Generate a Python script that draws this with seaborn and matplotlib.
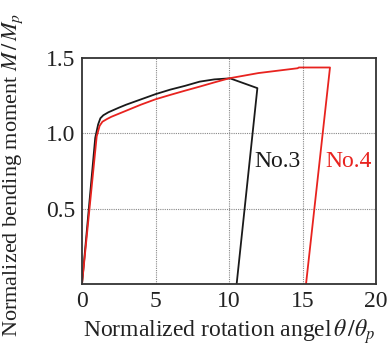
import matplotlib
matplotlib.use("Agg")
import matplotlib.pyplot as plt
import seaborn as sns
import pandas as pd

# Data
no3_theta = [0.0, 0.9, 1.1, 1.25, 1.45, 1.8, 2.5, 3.0, 4.0, 5.0, 6.0, 7.0, 8.0, 9.0, 10.07, 11.93, 10.52]
no3_m     = [0.0, 0.97, 1.06, 1.10, 1.12, 1.14, 1.17, 1.19, 1.225, 1.26, 1.29, 1.315, 1.343, 1.358, 1.365, 1.30, 0.0]
no4_theta = [0.0, 1.0, 1.2, 1.39, 1.7, 2.0, 3.0, 4.0, 5.0, 6.0, 7.0, 8.0, 9.0, 10.0, 12.0, 14.67, 14.75, 16.87, 15.24]
no4_m     = [0.0, 0.98, 1.05, 1.077, 1.095, 1.11, 1.15, 1.19, 1.226, 1.255, 1.283, 1.31, 1.338, 1.365, 1.40, 1.432, 1.437, 1.437, 0.0]
x_ticks = [0, 5, 10, 15, 20]
y_ticks = [0.5, 1.0, 1.5]

df = pd.concat([
    pd.DataFrame({"theta": no3_theta, "m": no3_m, "spec": "No.3", "order": range(len(no3_theta))}),
    pd.DataFrame({"theta": no4_theta, "m": no4_m, "spec": "No.4", "order": range(len(no4_theta))}),
])

sns.set_theme(style="white")
plt.rcParams["font.family"] = ["Liberation Serif", "DejaVu Serif"]
plt.rcParams["mathtext.fontset"] = "stix"

fig = plt.figure(figsize=(3.89, 3.47), dpi=100)
ax = fig.add_axes([82/389, 1-284/347, 294/389, 226/347])

sns.lineplot(data=df, x="theta", y="m", hue="spec", units="spec", estimator=None,
             sort=False, palette={"No.3": "#1a1a1a", "No.4": "#e8231f"},
             linewidth=1.3, legend=False, ax=ax)

ax.set_xlim(0, 20)
ax.set_ylim(0, 1.5)
ax.set_xticks(x_ticks)
ax.set_yticks(y_ticks)
ax.set_yticklabels([f"{v:.1f}" for v in y_ticks])
ax.tick_params(axis="both", length=0, labelsize=17, pad=5, colors="#222222")
for v in [5, 10, 15]:
    ax.axvline(v, color="#888888", linestyle=(0, (1, 1)), linewidth=0.8, zorder=0)
for v in [0.5, 1.0]:
    ax.axhline(v, color="#888888", linestyle=(0, (1, 1)), linewidth=0.8, zorder=0)
for s in ax.spines.values():
    s.set_color("#333333")
    s.set_linewidth(1.3)

ax.text(13.3, 0.81, "No.3", color="#1a1a1a", fontsize=17, ha="center", va="center")
ax.text(18.1, 0.81, "No.4", color="#e8231f", fontsize=17, ha="center", va="center")

ax.set_xlabel(r"Normalized rotation angel$\,\theta\,/\theta_p$", fontsize=17, color="#222222", labelpad=4)
ax.set_ylabel(r"Normalized bending moment $M\,/\,M_p$", fontsize=16, color="#222222")
ax.yaxis.set_label_coords(-57/294, (284-175)/226)

fig.savefig("out.png", dpi=100, facecolor="white")
